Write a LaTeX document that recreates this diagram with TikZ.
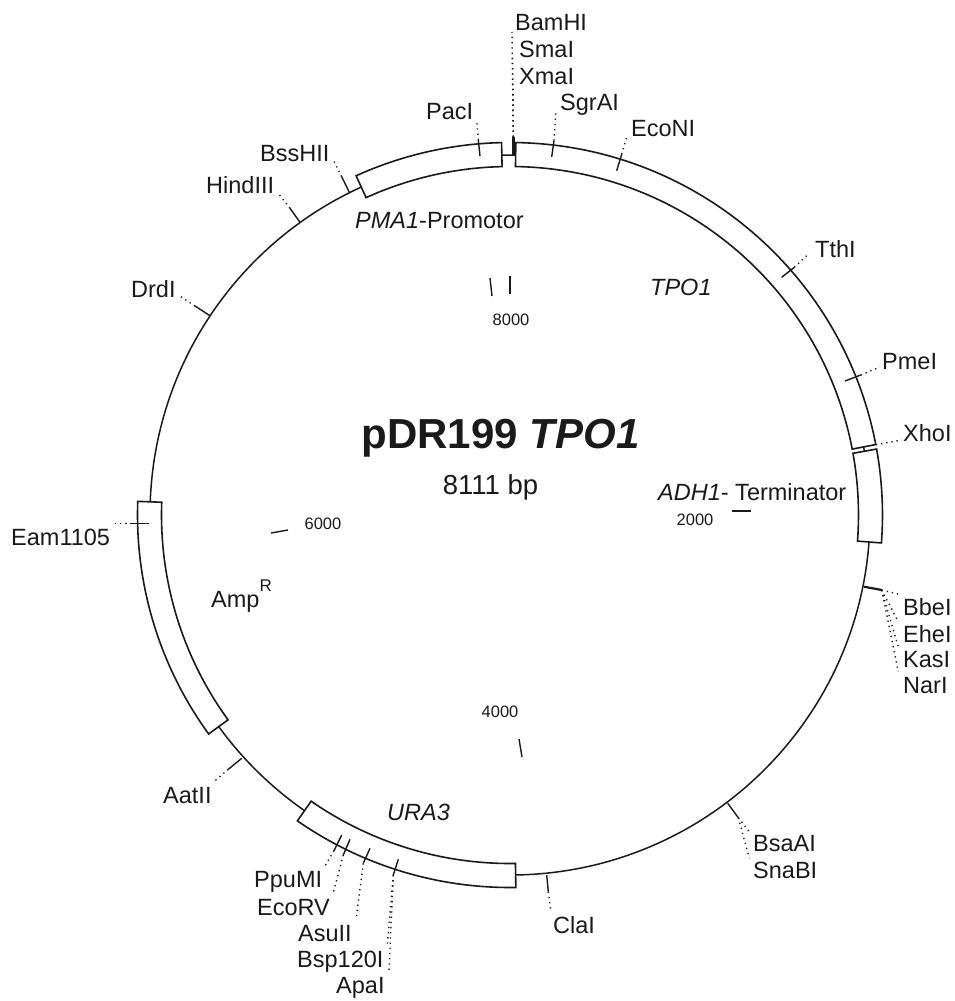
\documentclass[tikz,border=0pt]{standalone}
\usepackage{fontspec}
\setmainfont{Liberation Sans}
\usepackage{tikz}
\definecolor{ink}{HTML}{1A1A1A}
\tikzset{
    backbone/.style={draw=ink, line width=1.5pt},
    genebox/.style={draw=ink, fill=white, line width=1.6pt, line join=miter},
    sitetick/.style={ink, line width=1.4pt},
    thicktick/.style={ink, line width=3.5pt},
    boldtick/.style={ink, line width=2.2pt},
    leader/.style={ink, line width=1.4pt, dash pattern=on 1.3pt off 3.9pt},
    sitelabel/.style={inner sep=0pt, anchor=base west, yshift=-0.7pt, text=ink, font=\fontsize{23.5}{26}\selectfont},
    genelabel/.style={sitelabel, font=\fontsize{23.5}{26}\selectfont\itshape},
    scalelabel/.style={inner sep=0pt, anchor=center, text=ink, font=\fontsize{16.5}{18}\selectfont},
}
\begin{document}
\begin{tikzpicture}[x=1pt,y=-1pt]
\useasboundingbox (0,0) rectangle (954,1001);

% Backbone and gene boxes (true angles around the plasmid centre)
\begin{scope}[shift={(510,515)},y=1pt]
\draw[backbone] (0,0) circle (360);
\draw[genebox] (89.1:372.5) arc (89.1:10.9:372.5) -- (10.9:348.5) arc (10.9:89.1:348.5) -- cycle; % TPO1
\draw[genebox] (10.2:372.5) arc (10.2:-4.3:372.5) -- (-4.3:348.5) arc (-4.3:10.2:348.5) -- cycle; % ADH1
\draw[genebox] (177.9:372.5) arc (177.9:216:372.5) -- (216:348.5) arc (216:177.9:348.5) -- cycle; % AmpR
\draw[genebox] (235.2:372.5) arc (235.2:270.9:372.5) -- (270.9:348.5) arc (270.9:235.2:348.5) -- cycle; % URA3
\draw[genebox] (114.4:372.5) arc (114.4:91.3:372.5) -- (91.3:348.5) arc (91.3:114.4:348.5) -- cycle; % PMA1
\end{scope}

% Title
\node[inner sep=0pt,anchor=base,text=ink,font=\fontsize{42}{44}\selectfont\bfseries] (title) at (500.5,448) {pDR199 \textit{TPO1}};
\node[inner sep=0pt,anchor=base,text=ink,font=\fontsize{27.5}{30}\selectfont] (size) at (490.5,494) {8111 bp};

% Gene names
\node[genelabel] (pma) at (355,228) {PMA1\textup{-Promotor}};
\node[genelabel] (tpo) at (650,295) {TPO1};
\node[genelabel] (adh) at (658,500) {ADH1\textup{- Terminator}};
\node[genelabel] (ura) at (387,820) {URA3};
\node[sitelabel] (amp) at (211,607) {Amp\raisebox{16pt}{\fontsize{17}{17}\selectfont R}};

% Scale marks
\draw[sitetick] (490,278) coordinate (markA) -- (492,296);
\draw[sitetick] (510,276) coordinate (markB) -- (510,294);
\node[scalelabel] (kbeight) at (511,320) {8000};
\draw[sitetick] (732,511) coordinate (markC) -- (751,511);
\node[scalelabel] (kbtwo) at (695,520) {2000};
\draw[sitetick] (519,739) coordinate (markD) -- (522,757);
\node[scalelabel] (kbfour) at (500,712) {4000};
\draw[sitetick] (271,533) coordinate (markE) -- (288,530);
\node[scalelabel] (kbsix) at (323,524) {6000};

% Top sites
\node[sitelabel] (BamHI) at (515,30) {BamHI};
\node[sitelabel] (SmaI) at (519,57) {SmaI};
\node[sitelabel] (XmaI) at (519,84) {XmaI};
\coordinate (BamEnd) at (512,32);
\coordinate (SmaEnd) at (512.5,58);
\coordinate (XmaEnd) at (513,85);
\draw[thicktick] (513.3,137) coordinate (Bam) -- (513.3,155);
\draw[leader] (Bam) -- (BamEnd);
\draw[leader] (Bam) -- (SmaEnd);
\draw[leader] (Bam) -- (XmaEnd);

\node[sitelabel] (SgrAI) at (560,110) {SgrAI};
\coordinate (SgrEnd) at (556,110);
\draw[sitetick] (554,140.7) coordinate (Sgr) -- (551.7,157);
\draw[leader] (Sgr) -- (SgrEnd);

\node[sitelabel] (EcoNI) at (631,136) {EcoNI};
\coordinate (EcoEnd) at (626.7,136.7);
\draw[sitetick] (621.7,154.3) coordinate (Eco) -- (616.7,170.7);
\draw[leader] (Eco) -- (EcoEnd);

\node[sitelabel] (PacI) at (426,119) {PacI};
\coordinate (PacEnd) at (476.7,120);
\draw[sitetick] (478.3,140) coordinate (Pac) -- (480,156);
\draw[leader] (Pac) -- (PacEnd);

\node[sitelabel] (BssHII) at (260,161) {BssHII};
\coordinate (BssEnd) at (333.3,160);
\draw[sitetick] (341.7,176.7) coordinate (Bss) -- (349.5,192.7);
\draw[leader] (Bss) -- (BssEnd);

\node[sitelabel] (HindIII) at (206,193) {HindIII};
\coordinate (HindEnd) at (277.7,192.7);
\draw[sitetick] (290,208.3) coordinate (Hind) -- (300,222.3);
\draw[leader] (Hind) -- (HindEnd);

\node[sitelabel] (DrdI) at (131,297) {DrdI};
\coordinate (DrdEnd) at (179.3,295.7);
\draw[sitetick] (195,306) coordinate (Drd) -- (210,315.7);
\draw[leader] (Drd) -- (DrdEnd);

% Right sites
\node[sitelabel] (TthI) at (815,257) {TthI};
\coordinate (TthEnd) at (808.3,254.3);
\draw[sitetick] (794.3,267.3) coordinate (Tth) -- (781.7,277.3);
\draw[leader] (Tth) -- (TthEnd);

\node[sitelabel] (PmeI) at (882,369) {PmeI};
\coordinate (PmeEnd) at (880,367);
\draw[sitetick] (860.7,375) coordinate (Pme) -- (845,381);
\draw[leader] (Pme) -- (PmeEnd);

\node[sitelabel] (XhoI) at (903,441) {XhoI};
\coordinate (Xho) at (876,444.7);
\coordinate (XhoEnd) at (901.7,440);
\draw[leader] (Xho) -- (XhoEnd);

\node[sitelabel] (BbeI) at (903,615) {BbeI};
\node[sitelabel] (EheI) at (903,642) {EheI};
\node[sitelabel] (KasI) at (903,667) {KasI};
\node[sitelabel] (NarI) at (903,693) {NarI};
\coordinate (BbeEnd) at (898,594);
\coordinate (EheEnd) at (897,619.3);
\coordinate (KasEnd) at (898,646);
\coordinate (NarEnd) at (898.3,671.7);
\draw[boldtick] (864,586.7) -- (881.7,590) coordinate (Bbe);
\draw[leader] (Bbe) -- (BbeEnd);
\draw[leader] (Bbe) -- (EheEnd);
\draw[leader] (Bbe) -- (KasEnd);
\draw[leader] (Bbe) -- (NarEnd);

% Bottom sites
\node[sitelabel] (BsaAI) at (753,851) {BsaAI};
\node[sitelabel] (SnaBI) at (753,878) {SnaBI};
\coordinate (BsaEnd) at (749.3,831.7);
\coordinate (SnaEnd) at (749.3,858.3);
\draw[sitetick] (727.7,803.3) -- (738.3,817.7) coordinate (Bsa);
\draw[leader] (Bsa) -- (BsaEnd);
\draw[leader] (Bsa) -- (SnaEnd);

\node[sitelabel] (ClaI) at (553,933) {ClaI};
\coordinate (ClaEnd) at (550.7,910);
\draw[sitetick] (546.7,875) -- (548.3,891.7) coordinate (Cla);
\draw[leader] (Cla) -- (ClaEnd);

\node[sitelabel] (PpuMI) at (254,887) {PpuMI};
\coordinate (PpuEnd) at (325,866);
\draw[sitetick] (341.7,835) -- (334,850.7) coordinate (Ppu);
\draw[leader] (Ppu) -- (PpuEnd);

\node[sitelabel] (EcoRV) at (257,915) {EcoRV};
\coordinate (RvEnd) at (333.3,892.7);
\draw[sitetick] (350,839.3) -- (343.3,855) coordinate (Rv);
\draw[leader] (Rv) -- (RvEnd);

\node[sitelabel] (AsuII) at (298,941) {AsuII};
\coordinate (AsuEnd) at (356,919.3);
\draw[sitetick] (370,848.3) -- (363.3,863.3) coordinate (Asu);
\draw[leader] (Asu) -- (AsuEnd);

\node[sitelabel] (Bsp) at (297,967) {Bsp120I};
\node[sitelabel] (ApaI) at (336,993) {ApaI};
\coordinate (BspEnd) at (387.3,945);
\coordinate (ApaEnd) at (389,971);
\draw[sitetick] (398.3,859.3) -- (393.3,875) coordinate (Bsp120);
\draw[leader] (Bsp120) -- (BspEnd);
\draw[leader] (Bsp120) -- (ApaEnd);

% Left sites
\node[sitelabel] (AatII) at (163,803) {AatII};
\coordinate (AatEnd) at (215,780.7);
\draw[sitetick] (241.7,758.3) -- (228.3,769.3) coordinate (Aat);
\draw[leader] (Aat) -- (AatEnd);

\node[sitelabel] (Eam) at (11,545) {Eam1105};
\coordinate (EamEnd) at (113.3,523.7);
\draw[sitetick] (149,523.7) -- (131.7,523.7) coordinate (EamT);
\draw[leader] (EamT) -- (EamEnd);
\end{tikzpicture}
\end{document}
